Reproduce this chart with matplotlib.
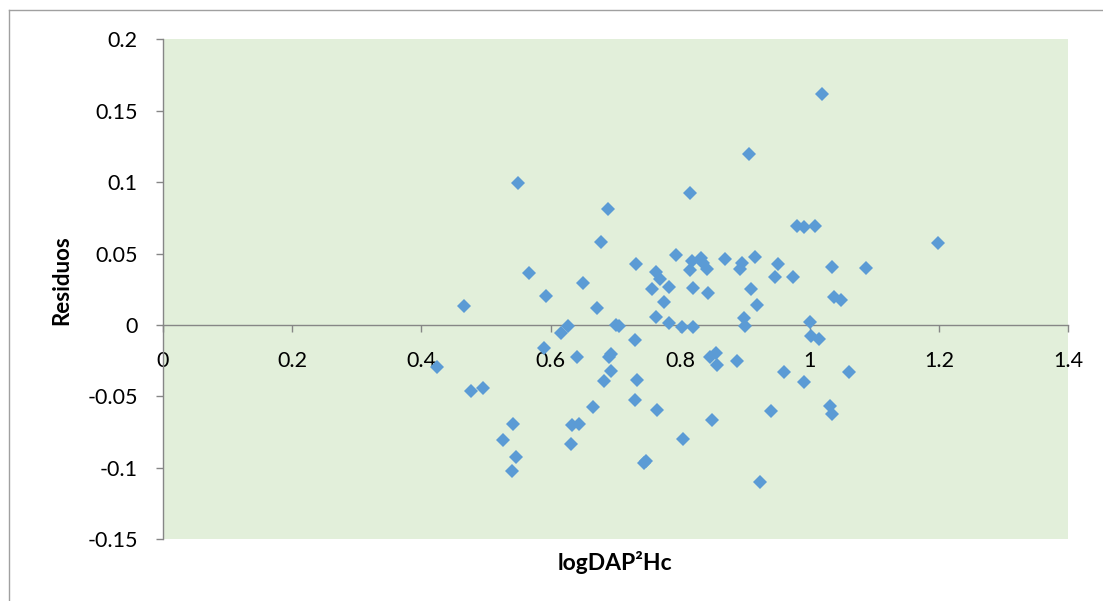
import matplotlib
matplotlib.use("Agg")
import matplotlib.pyplot as plt
from matplotlib.lines import Line2D

# residuals vs. log(DAP^2 * Hc)
log_dap2hc = [
    0.4236, 0.4654, 0.4767, 0.4952, 0.5257, 0.5395, 0.5421, 0.5467, 0.5493, 0.566,
    0.590, 0.592, 0.616, 0.626, 0.6313, 0.6333, 0.640, 0.6436, 0.649, 0.665,
    0.672, 0.678, 0.6823, 0.6885, 0.690, 0.6926, 0.6936, 0.701, 0.7055, 0.730,
    0.7307, 0.731, 0.7338, 0.744, 0.7472, 0.756, 0.7627, 0.7627, 0.7638, 0.769,
    0.775, 0.782, 0.783, 0.793, 0.8024, 0.805, 0.8147, 0.8157, 0.818, 0.8194,
    0.820, 0.832, 0.836, 0.841, 0.8426, 0.846, 0.8488, 0.8555, 0.8575, 0.8698,
    0.8874, 0.8926, 0.895, 0.899, 0.9003, 0.906, 0.9096, 0.9158, 0.919, 0.9235,
    0.941, 0.947, 0.951, 0.9606, 0.9745, 0.981, 0.991, 0.991, 1.0008, 1.0028,
    1.009, 1.0147, 1.0198, 1.031, 1.0348, 1.0353, 1.0374, 1.048, 1.0606, 1.0878,
    1.1987,
]
residuos = [
    -0.0292, 0.0133, -0.0462, -0.0441, -0.0805, -0.1022, -0.0695, -0.0922, 0.0992, 0.0364,
    -0.0163, 0.0203, -0.0058, -0.0005, -0.0831, -0.0700, -0.0222, -0.0693, 0.0292, -0.0572,
    0.0117, 0.0583, -0.0390, 0.0810, -0.0226, -0.0203, -0.0324, 0.0000, -0.0009, -0.0105,
    -0.0525, 0.0429, -0.0385, -0.0964, -0.0952, 0.0254, 0.0371, 0.0058, -0.0598, 0.0320,
    0.0163, 0.0012, 0.0268, 0.0488, -0.0012, -0.0798, 0.0383, 0.0924, 0.0450, -0.0012,
    0.0261, 0.0467, 0.0432, 0.0390, 0.0226, -0.0222, -0.0667, -0.0194, -0.0280, 0.0464,
    -0.0250, 0.0390, 0.0432, 0.0051, -0.0007, 0.1199, 0.0254, 0.0478, 0.0138, -0.1097,
    -0.0602, 0.0338, 0.0427, -0.0327, 0.0338, 0.0695, 0.0688, -0.0401, 0.0019, -0.0077,
    0.0693, -0.0098, 0.1617, -0.0565, 0.0406, -0.0623, 0.0194, 0.0175, -0.0329, 0.0401,
    0.0572,
]
x_ticks = [0, 0.2, 0.4, 0.6, 0.8, 1, 1.2, 1.4]
y_ticks = [-0.15, -0.1, -0.05, 0, 0.05, 0.1, 0.15, 0.2]

plt.rcParams['font.family'] = ['Lato', 'DejaVu Sans']

W, H = 1103, 601
fig = plt.figure(figsize=(W / 100, H / 100), dpi=100)

# plot area in pixels
left, right, top, bottom = 162.7, 1068.3, 39.3, 539.3
ax = fig.add_axes([left / W, (H - bottom) / H, (right - left) / W, (bottom - top) / H])
ax.set_facecolor('#E2EFDA')

ax.plot(log_dap2hc, residuos, linestyle='none', marker='D', markersize=7,
        color='#5B9BD5', markeredgewidth=0, zorder=3, clip_on=False)

ax.set_xlim(0, 1.4)
ax.set_ylim(-0.15, 0.2)

axis_col = '#868686'
for s in ['top', 'right']:
    ax.spines[s].set_visible(False)
ax.spines['bottom'].set_position(('data', 0))
for s in ['bottom', 'left']:
    ax.spines[s].set_color(axis_col)
    ax.spines[s].set_linewidth(1.0)
    ax.spines[s].set_zorder(2)

ax.set_xticks(x_ticks)
ax.set_xticklabels(['0', '0.2', '0.4', '0.6', '0.8', '1', '1.2', '1.4'])
ax.set_yticks(y_ticks)
ax.set_yticklabels(['-0.15', '-0.1', '-0.05', '0', '0.05', '0.1', '0.15', '0.2'])
ax.tick_params(axis='x', direction='out', length=5, width=1.0, color=axis_col,
               labelsize=15.5, pad=14)
ax.tick_params(axis='y', direction='out', length=5, width=1.0, color=axis_col,
               labelsize=15.5, pad=13)

fig.text(615 / W, 1 - 562 / H, 'logDAP²Hc', ha='center', va='center',
         fontsize=16.5, fontweight='bold')
fig.text(62 / W, 1 - 280 / H, 'Residuos', ha='center', va='center',
         rotation=90, fontsize=16, fontweight='bold')

# chart frame (only left and top edges fall inside the image)
frame_col = '#A0A0A0'
fig.add_artist(Line2D([8.5 / W, 8.5 / W], [0, 1 - 9.5 / H], color=frame_col, lw=1.0))
fig.add_artist(Line2D([8.5 / W, 1], [1 - 9.5 / H, 1 - 9.5 / H], color=frame_col, lw=1.0))

fig.savefig('out.png', dpi=100)
